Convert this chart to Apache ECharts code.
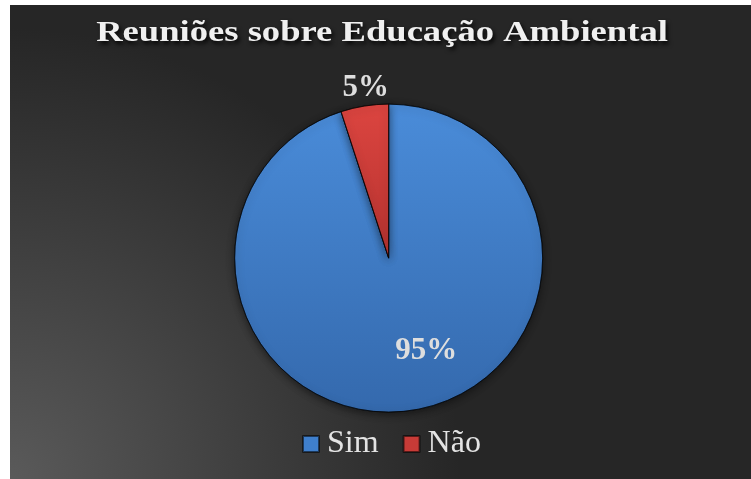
<!DOCTYPE html>
<html>
<head>
<meta charset="utf-8">
<script src="https://cdn.jsdelivr.net/npm/echarts@6/dist/echarts.min.js"></script>
<style>
  html, body { margin: 0; padding: 0; background: #fff; }
  #chart { position: absolute; left: 10px; top: 5px; width: 741px; height: 474px; }
</style>
</head>
<body>
<div id="chart"></div>
<script>
// dados do gráfico
const titulo = 'Reuniões sobre Educação Ambiental'
const categorias = ['Sim', 'Não']
const valores = [95, 5]
const rotulos = ['95%', '5%']

const serifFont = '"Liberation Serif", "DejaVu Serif", serif'

const chart = echarts.init(document.getElementById('chart'))

const grad = (top, bottom) => new echarts.graphic.LinearGradient(0, 0, 0, 1, [
  { offset: 0, color: top },
  { offset: 1, color: bottom }
])

const cores = [grad('#4a8cd9', '#3469ad'), grad('#dc4540', '#b5322f')]
const coresLegenda = ['#3f7fcc', '#c83b37']

// deslocamento dos rótulos em relação à posição padrão
const ajusteRotulo = [[25, 14], [30, -14]]

chart.setOption({
  backgroundColor: new echarts.graphic.RadialGradient(0, 1, 0.95, [
    { offset: 0, color: '#5a5a5a' },
    { offset: 1, color: '#262626' }
  ]),
  // título com texto espaçado (esticado na horizontal)
  graphic: [{
    type: 'text',
    x: 372,
    y: 28,
    scaleX: 1.22,
    style: {
      text: titulo,
      font: 'bold 30px ' + serifFont,
      fill: '#f0f0f0',
      align: 'center',
      verticalAlign: 'middle',
      textShadowColor: 'rgba(0,0,0,0.85)',
      textShadowBlur: 4,
      textShadowOffsetX: 2,
      textShadowOffsetY: 3
    }
  }],
  legend: {
    top: 418,
    left: 287,
    itemWidth: 16,
    itemHeight: 16,
    itemGap: 24,
    icon: 'rect',
    textStyle: {
      fontFamily: serifFont,
      fontSize: 32,
      color: '#e4e4e4',
      padding: [0, 0, 0, 3]
    },
    data: categorias.map((c, i) => ({ name: c, itemStyle: { color: coresLegenda[i] } }))
  },
  series: [{
    type: 'pie',
    center: ['51.1%', '53.4%'],
    radius: 154,
    startAngle: 90,
    clockwise: true,
    avoidLabelOverlap: false,
    itemStyle: {
      borderColor: 'rgba(0,0,0,0.55)',
      borderWidth: 1,
      shadowColor: 'rgba(0,0,0,0.5)',
      shadowBlur: 8,
      shadowOffsetY: 2
    },
    label: {
      fontFamily: serifFont,
      fontSize: 31,
      fontWeight: 'bold',
      color: '#dedede'
    },
    labelLine: { show: false, length: 4, length2: 0 },
    labelLayout: (params) => ({
      dx: ajusteRotulo[params.dataIndex][0],
      dy: ajusteRotulo[params.dataIndex][1]
    }),
    data: categorias.map((c, i) => ({
      name: c,
      value: valores[i],
      itemStyle: { color: cores[i] },
      label: {
        position: i === 0 ? 'inside' : 'outside',
        formatter: rotulos[i]
      }
    }))
  }]
})
</script>
</body>
</html>
